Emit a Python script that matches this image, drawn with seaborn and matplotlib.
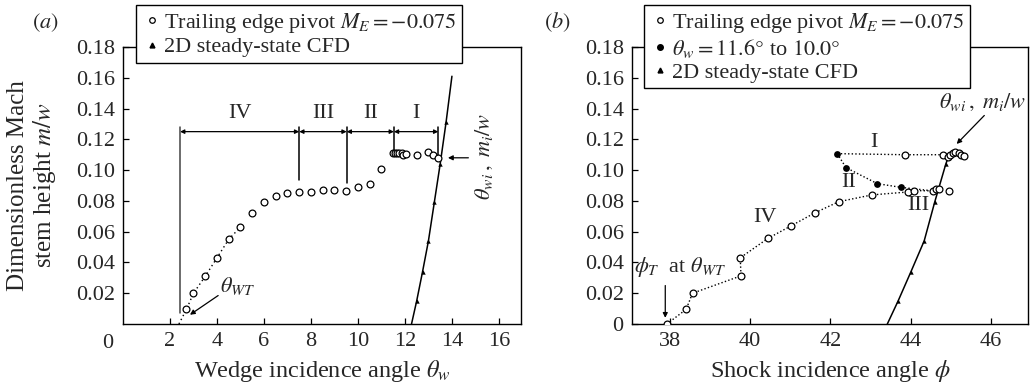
import numpy as np
import pandas as pd
import matplotlib
matplotlib.use("Agg")
import matplotlib.pyplot as plt
from matplotlib.lines import Line2D
import seaborn as sns

# ---------------- data ----------------
# Panel (a): wedge incidence angle vs Mach stem height
a_theta = [2.7, 3.0, 3.5, 4.0, 4.5, 5.0, 5.5, 6.0, 6.5, 7.0, 7.5, 8.0, 8.5, 9.0, 9.5,
           10.0, 10.5, 11.0, 11.5, 11.59, 11.67, 11.76, 11.87, 11.93, 12.03, 12.5,
           13.0, 13.2, 13.4]
a_mw = [0.0095, 0.020, 0.031, 0.043, 0.055, 0.063, 0.072, 0.079, 0.083, 0.085, 0.086,
        0.086, 0.087, 0.087, 0.0866, 0.089, 0.091, 0.101, 0.111, 0.111, 0.111, 0.111,
        0.111, 0.1095, 0.1105, 0.1098, 0.112, 0.110, 0.108]
a_dot_theta = [2.38, 2.7, 3.0, 3.5, 4.0, 4.5, 5.0]
a_dot_mw = [0.0, 0.0095, 0.020, 0.031, 0.043, 0.055, 0.063]
a_cfd_theta = [12.5, 12.75, 13.0, 13.25, 13.5, 13.75]
a_cfd_mw = [0.015, 0.034, 0.054, 0.079, 0.104, 0.131]
a_cfd_line_theta = [12.28, 12.5, 12.75, 13.0, 13.25, 13.5, 13.75, 14.0]
a_cfd_line_mw = [0.0, 0.015, 0.034, 0.054, 0.079, 0.104, 0.131, 0.161]
region_bounds = [2.43, 7.5, 9.52, 11.53, 13.42]
region_bottoms = [0.007, 0.0936, 0.0914, 0.112, 0.110]
region_labels = ["IV", "III", "II", "I"]

# Panel (b): shock incidence angle vs Mach stem height
b_iv_phi = [37.92, 38.40, 38.56, 39.77, 39.75, 40.44, 41.02, 41.61, 42.21, 43.04,
            43.94, 44.08, 44.56, 44.64, 44.72]
b_iv_mw = [0.0, 0.0095, 0.020, 0.0313, 0.043, 0.0556, 0.0638, 0.0722, 0.0795, 0.0839,
           0.0858, 0.0867, 0.0865, 0.0877, 0.0877]
b_extra_phi = [44.96]
b_extra_mw = [0.0867]
b_i_phi = [43.87, 44.80, 44.94, 44.99, 45.06, 45.12, 45.20, 45.27, 45.33]
b_i_mw = [0.110, 0.110, 0.1083, 0.110, 0.111, 0.112, 0.111, 0.110, 0.109]
b_fill_phi = [42.17, 42.39, 43.17, 43.76]
b_fill_mw = [0.1107, 0.1016, 0.0912, 0.0888]
b_cfd_phi = [43.69, 44.01, 44.34, 44.60, 44.88]
b_cfd_mw = [0.015, 0.034, 0.054, 0.079, 0.104]
b_cfd_line_phi = [43.42, 43.69, 44.01, 44.34, 44.60, 44.88, 44.95]
b_cfd_line_mw = [0.0, 0.015, 0.034, 0.054, 0.079, 0.104, 0.109]

a_xticks = [2, 4, 6, 8, 10, 12, 14, 16]
b_xticks = [38, 40, 42, 44, 46]
a_yticks = [0.02, 0.04, 0.06, 0.08, 0.10, 0.12, 0.14, 0.16, 0.18]
b_yticks = [0.0, 0.02, 0.04, 0.06, 0.08, 0.10, 0.12, 0.14, 0.16, 0.18]

# ---------------- style ----------------
sns.set_theme(style="ticks")
plt.rcParams["font.family"] = ["Liberation Serif", "DejaVu Serif"]
plt.rcParams["mathtext.fontset"] = "stix"
plt.rcParams["axes.linewidth"] = 1.0
plt.rcParams["xtick.direction"] = "in"
plt.rcParams["ytick.direction"] = "in"

FS = 16      # tick labels / annotations
LFS = 17.5   # axis labels
fig = plt.figure(figsize=(10.34, 3.91), dpi=100)
axA = fig.add_axes([123 / 1034, 67 / 391, (521 - 123) / 1034, (324 - 47) / 391])
axB = fig.add_axes([632 / 1034, 67 / 391, (1028 - 632) / 1034, (324 - 47) / 391])

open_kw = dict(marker="o", s=24, facecolor="white", edgecolor="black", linewidth=0.9, zorder=4)
tri_kw = dict(marker="^", s=10, color="black", linewidth=0, zorder=4)
fill_kw = dict(marker="o", s=24, color="black", linewidth=0, zorder=4)

# ---- panel (a) ----
ax = axA
sns.lineplot(x=a_dot_theta, y=a_dot_mw, sort=False, estimator=None, ax=ax,
             color="black", lw=1.0, linestyle=(0, (1, 2.2)), zorder=2)
sns.lineplot(x=a_cfd_line_theta, y=a_cfd_line_mw, sort=False, estimator=None, ax=ax,
             color="black", lw=1.1, zorder=3)
sns.scatterplot(x=a_theta, y=a_mw, ax=ax, **open_kw)
sns.scatterplot(x=a_cfd_theta, y=a_cfd_mw, ax=ax, **tri_kw)

top_y = 0.128
for i, (xb, yb) in enumerate(zip(region_bounds, region_bottoms)):
    ax.plot([xb, xb], [yb, top_y], color="#444444" if i == 0 else "black", lw=1.1)
for i, lab in enumerate(region_labels):
    x0, x1 = region_bounds[i], region_bounds[i + 1]
    ax.annotate("", xy=(x0, 0.125), xytext=(x1, 0.125),
                arrowprops=dict(arrowstyle="<|-|>", color="black", lw=0.9,
                                mutation_scale=6, shrinkA=0, shrinkB=0))
    ax.text((x0 + x1) / 2, 0.1365, lab, ha="center", va="center", fontsize=FS)

ax.annotate("", xy=(13.83, 0.108), xytext=(14.7, 0.108),
            arrowprops=dict(arrowstyle="-|>", color="black", lw=0.9, mutation_scale=7,
                            shrinkA=0, shrinkB=0))
ax.text(15.4, 0.109, r"$\theta_{wi}\,,\ m_i/w$", rotation=90, ha="center", va="center",
        fontsize=FS)
ax.annotate("", xy=(2.85, 0.006), xytext=(4.05, 0.0185),
            arrowprops=dict(arrowstyle="-|>", color="black", lw=0.9, mutation_scale=7,
                            shrinkA=0, shrinkB=0))
ax.text(4.9, 0.0245, r"$\theta_{WT}$", ha="center", va="center", fontsize=FS)
ax.annotate("0", xy=(0, 0), xytext=(-11, -14), textcoords="offset points",
            ha="center", va="center", fontsize=FS)

ax.set_xlim(0, 16.94)
ax.set_ylim(0, 0.18)
ax.set_xticks(a_xticks)
ax.set_xticklabels([str(t) for t in a_xticks])
ax.set_yticks(a_yticks)
ax.set_yticklabels([f"{t:.2f}" for t in a_yticks])
ax.set_xlabel(r"Wedge incidence angle $\theta_w$", fontsize=LFS, labelpad=5)
ax.set_ylabel("Dimensionless Mach\nstem height $m/w$", fontsize=18, linespacing=1.1)
ax.yaxis.set_label_coords(-0.163, 0.5)

# ---- panel (b) ----
ax = axB
dot_ls = (0, (1, 1.6))
sns.lineplot(x=b_iv_phi, y=b_iv_mw, sort=False, estimator=None, ax=ax,
             color="black", lw=1.0, linestyle=dot_ls, zorder=2)
sns.lineplot(x=[b_fill_phi[0]] + b_i_phi, y=[b_fill_mw[0]] + b_i_mw, sort=False,
             estimator=None, ax=ax, color="black", lw=1.0, linestyle=dot_ls, zorder=2)
sns.lineplot(x=b_fill_phi + [b_iv_phi[-3]], y=b_fill_mw + [b_iv_mw[-3]], sort=False,
             estimator=None, ax=ax, color="black", lw=1.0, linestyle=dot_ls, zorder=2)
sns.lineplot(x=b_cfd_line_phi, y=b_cfd_line_mw, sort=False, estimator=None, ax=ax,
             color="black", lw=1.1, zorder=3)
sns.scatterplot(x=b_iv_phi + b_extra_phi + b_i_phi, y=b_iv_mw + b_extra_mw + b_i_mw,
                ax=ax, **open_kw)
sns.scatterplot(x=b_fill_phi, y=b_fill_mw, ax=ax, **fill_kw)
sns.scatterplot(x=b_cfd_phi, y=b_cfd_mw, ax=ax, **tri_kw)

ax.text(43.08, 0.118, "I", ha="center", va="center", fontsize=FS)
ax.text(42.45, 0.092, "II", ha="center", va="center", fontsize=FS)
ax.text(44.19, 0.077, "III", ha="center", va="center", fontsize=FS)
ax.text(40.36, 0.069, "IV", ha="center", va="center", fontsize=FS)
ax.text(38.25, 0.037, r"$\phi_T$  at $\theta_{WT}$", ha="center", va="center", fontsize=FS)
ax.annotate("", xy=(37.88, 0.004), xytext=(37.88, 0.025),
            arrowprops=dict(arrowstyle="-|>", color="black", lw=0.9, mutation_scale=7,
                            shrinkA=0, shrinkB=0))
ax.text(45.8, 0.144, r"$\theta_{wi}\,,\ m_i/w$", ha="center", va="center", fontsize=FS)
ax.annotate("", xy=(45.15, 0.117), xytext=(45.84, 0.1355),
            arrowprops=dict(arrowstyle="-|>", color="black", lw=0.9, mutation_scale=7,
                            shrinkA=0, shrinkB=0))

ax.set_xlim(37.05, 46.93)
ax.set_ylim(0, 0.18)
ax.set_xticks(b_xticks)
ax.set_xticklabels([str(t) for t in b_xticks])
ax.set_yticks(b_yticks)
ax.set_yticklabels(["0" if t == 0 else f"{t:.2f}" for t in b_yticks])
ax.set_xlabel(r"Shock incidence angle $\phi$", fontsize=LFS, labelpad=5)

for ax in (axA, axB):
    for sp in ax.spines.values():
        sp.set_visible(True)
        sp.set_color("black")
        sp.set_linewidth(1.0)
    ax.tick_params(axis="both", which="major", labelsize=FS, length=4, width=0.9,
                   color="black", pad=6, top=False, right=False)

# ---- legends ----
h_open = Line2D([], [], marker="o", ls="none", mfc="white", mec="black", ms=4, mew=0.9)
h_fill = Line2D([], [], marker="o", ls="none", mfc="black", mec="black", ms=4)
h_tri = Line2D([], [], marker="^", ls="none", mfc="black", mec="black", ms=3.5)
lab_open = r"Trailing edge pivot $M_E = -0.075$"
lab_fill = r"$\theta_w = 11.6°$ to $10.0°$"
lab_cfd = "2D steady-state CFD"
leg_kw = dict(fontsize=16, frameon=True, fancybox=False, edgecolor="black",
              framealpha=1, borderpad=0.25, handletextpad=0.1, labelspacing=0.1,
              handlelength=0.9, borderaxespad=0)
legA = axA.legend([h_open, h_tri], [lab_open, lab_cfd], loc="upper left",
                  bbox_to_anchor=(136 / 1034, 386 / 391), bbox_transform=fig.transFigure,
                  **leg_kw)
legA.get_frame().set_linewidth(1.0)
legA.set_zorder(10)
legB = axB.legend([h_open, h_fill, h_tri], [lab_open, lab_fill, lab_cfd], loc="upper left",
                  bbox_to_anchor=(644 / 1034, 386 / 391), bbox_transform=fig.transFigure,
                  **leg_kw)
legB.get_frame().set_linewidth(1.0)
legB.set_zorder(10)

fig.text(45 / 1034, 1 - 23 / 391, "$(a)$", ha="center", va="center", fontsize=16)
fig.text(557 / 1034, 1 - 22 / 391, "$(b)$", ha="center", va="center", fontsize=16)

fig.savefig("out.png", dpi=100)
